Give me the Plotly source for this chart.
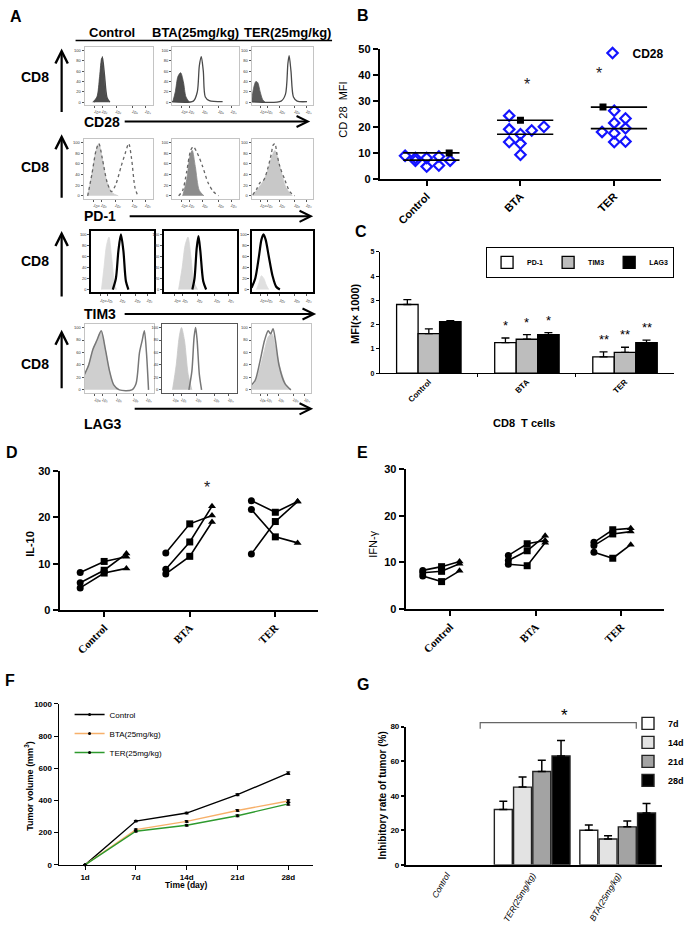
import plotly.graph_objects as go

W, H = 689, 937
def X(px): return px / W
def Y(py): return 1 - py / H

FONT = "Liberation Sans, Arial, sans-serif"
SERIF = "Liberation Serif, Times New Roman, serif"
NARROW = "Liberation Sans Narrow, Arial Narrow, Liberation Sans, sans-serif"

# ---------------- Panel A data (flow histograms, display scale 0-5) ----------------
A_GROUPS = ["Control", "BTA(25mg/kg)", "TER(25mg/kg)"]
A_KEYS = ["Control", "BTA", "TER"]
A_MARKERS = ["CD28", "PD-1", "TIM3", "LAG3"]
HIST_TICKVALS = [0.75, 1.3, 2.3, 3.5, 4.45]
HIST_TICKTEXT = ["10⁰", "10¹", "10²", "10³", "10⁴"]
HIST_YTICKS = [0, 20, 40, 60, 80, 100]

CD28_ISO = {
    "Control": ([0.6, 0.9, 1.1, 1.25, 1.4, 1.6, 1.8], [0, 10, 50, 85, 60, 10, 0]),
    "BTA": ([0.05, 0.25, 0.45, 0.65, 0.85, 1.05, 1.3], [0, 20, 50, 57, 40, 10, 0]),
    "TER": ([0.0, 0.15, 0.35, 0.5, 0.7, 0.9, 1.1], [0, 25, 40, 38, 20, 5, 0]),
}
CD28_STAIN = {
    "Control": ([0.7, 0.95, 1.15, 1.3, 1.45, 1.65, 1.85], [0, 8, 45, 88, 55, 8, 0]),
    "BTA": ([0.0, 1.6, 1.9, 2.05, 2.2, 2.35, 2.5, 2.8, 3.8], [1, 2, 20, 70, 88, 60, 10, 3, 1]),
    "TER": ([0.0, 2.4, 2.75, 2.95, 3.05, 3.2, 3.4, 3.7, 4.5], [1, 2, 15, 75, 90, 60, 10, 2, 1]),
}
PD1_ISO = {
    "Control": ([0.3, 0.6, 0.9, 1.1, 1.35, 1.7, 2.1, 2.5], [0, 40, 85, 98, 70, 25, 5, 0]),
    "BTA": ([0.8, 1.1, 1.35, 1.52, 1.75, 2.05, 2.4], [0, 30, 75, 85, 55, 10, 0]),
    "TER": ([0.1, 0.4, 0.8, 1.2, 1.6, 1.9, 2.3, 2.8, 3.3], [0, 10, 22, 40, 70, 85, 55, 15, 0]),
}
PD1_STAIN = {
    "Control": ([0.3, 0.6, 0.9, 1.1, 1.35, 1.7, 2.0, 2.3, 2.7, 3.0, 3.25, 3.45, 3.7, 3.9],
                [0, 40, 85, 98, 70, 25, 8, 20, 55, 80, 98, 70, 15, 0]),
    "BTA": ([0.5, 0.8, 1.1, 1.4, 1.6, 1.9, 2.3, 2.7, 3.1, 3.5], [0, 10, 45, 85, 92, 80, 55, 25, 8, 0]),
    "TER": ([0.1, 0.4, 0.7, 1.0, 1.3, 1.6, 1.75, 1.9, 2.05, 2.3, 2.7, 3.1, 3.5],
            [2, 12, 25, 30, 50, 78, 95, 98, 80, 55, 30, 8, 0]),
}
TIM3_ISO = {
    "Control": ([0.8, 1.0, 1.2, 1.4, 1.6, 1.85, 2.0], [0, 40, 80, 95, 60, 10, 0]),
    "BTA": ([1.0, 1.25, 1.45, 1.65, 1.85, 2.05, 2.3], [0, 40, 80, 95, 60, 15, 0]),
    "TER": ([0.4, 0.6, 0.8, 1.0, 1.2, 1.4], [0, 12, 25, 20, 8, 0]),
}
TIM3_STAIN = {
    "Control": ([1.7, 1.95, 2.15, 2.35, 2.55, 2.75, 2.95], [0, 20, 70, 100, 70, 15, 0]),
    "BTA": ([1.95, 2.1, 2.25, 2.37, 2.5, 2.7, 2.9], [0, 20, 75, 97, 70, 15, 0]),
    "TER": ([0.0, 0.3, 0.6, 0.8, 0.97, 1.15, 1.4, 1.7, 2.0, 2.3], [3, 20, 60, 90, 100, 90, 60, 25, 5, 0]),
}
LAG3_ISO = {
    "Control": ([0.0, 0.3, 0.6, 0.9, 1.2, 1.5, 1.8, 2.1, 2.5], [25, 40, 65, 80, 95, 65, 30, 8, 0]),
    "BTA": ([0.7, 0.95, 1.15, 1.3, 1.5, 1.75, 2.0], [0, 40, 85, 100, 80, 25, 0]),
    "TER": ([0.0, 0.3, 0.7, 1.1, 1.4, 1.7, 2.0, 2.4, 2.9, 3.3], [5, 12, 35, 65, 85, 90, 70, 35, 8, 0]),
}
LAG3_STAIN = {
    "Control": ([0.0, 0.3, 0.6, 0.9, 1.2, 1.5, 1.8, 2.1, 2.5, 3.4, 3.7, 3.95, 4.15, 4.3, 4.45, 4.6],
                [25, 40, 65, 80, 95, 65, 30, 8, 0, 0, 10, 60, 80, 95, 60, 0]),
    "BTA": ([1.8, 2.0, 2.15, 2.25, 2.35, 2.5, 2.65], [0, 30, 85, 100, 80, 25, 0]),
    "TER": ([0.0, 0.3, 0.7, 1.1, 1.4, 1.6, 1.8, 2.0, 2.3, 2.8, 3.3], [8, 15, 45, 80, 95, 90, 98, 80, 40, 10, 0]),
}

# ---------------- Panel B data ----------------
B_CATS = ["Control", "BTA", "TER"]
CD28_CONTROL = [8.9, 8.0, 7.0, 8.0, 4.7, 8.6, 5.1, 7.0]
CD28_BTA = [24.4, 19.1, 14.2, 17.2, 13.6, 9.3, 18.7, 20.1]
CD28_TER = [18.1, 26.3, 21.6, 17.6, 14.2, 23.3, 19.5, 14.4]
CD28_JITTER = [[-0.23, -0.12, -0.12, 0, 0, 0.13, 0.13, 0.25],
               [-0.12, -0.12, -0.12, 0, 0, 0, 0.12, 0.25],
               [-0.13, 0, 0, 0, 0, 0.12, 0.12, 0.12]]
CD28_UPPER = [10.0, 22.6, 27.7]
CD28_LOWER = [7.2, 17.2, 19.4]
CD28_SQUARE_OFFSET = [0.24, 0.0, -0.12]
B_STARS = ["", "*", "*"]
B_STAR_Y = [0, 36.6, 40.8]
B_STAR_OFFSET = [0, 0.07, -0.16]

# ---------------- Panel C data ----------------
C_CATS = ["Control", "BTA", "TER"]
C_SERIES = ["PD-1", "TIM3", "LAG3"]
PD1_MFI = [2.83, 1.26, 0.67]
PD1_ERR = [0.20, 0.19, 0.21]
TIM3_MFI = [1.63, 1.40, 0.86]
TIM3_ERR = [0.20, 0.19, 0.21]
LAG3_MFI = [2.12, 1.59, 1.26]
LAG3_ERR = [0.05, 0.08, 0.10]
PD1_STARS = ["", "*", "**"]
TIM3_STARS = ["", "*", "**"]
LAG3_STARS = ["", "*", "**"]

# ---------------- Panel D / E data (three paired lines per group) ----------------
DE_CATS = ["Control", "BTA", "TER"]
IL10_CONTROL = [[8.1, 10.5, 11.5], [5.9, 8.6, 12.2], [4.8, 8.0, 9.0]]
IL10_BTA = [[12.3, 18.6, 20.4], [8.8, 14.7, 22.4], [7.8, 11.6, 19.0]]
IL10_TER = [[23.6, 21.1, 23.4], [21.7, 15.8, 14.5], [12.1, 19.1, 23.4]]
IFNG_CONTROL = [[8.3, 9.1, 10.2], [7.8, 8.1, 9.7], [7.1, 5.9, 8.2]]
IFNG_BTA = [[11.5, 14.0, 14.7], [10.4, 12.5, 15.7], [9.6, 9.3, 14.2]]
IFNG_TER = [[14.3, 17.0, 17.3], [13.6, 16.1, 16.6], [12.2, 10.9, 13.8]]
D_STARS = ["", "*", "**"]
D_STAR_Y = [0, 26.5, 30.3]
D_STAR_OFFSET = [0, 0.2, 0.13]

# ---------------- Panel F data ----------------
DAYS = ["1d", "7d", "14d", "21d", "28d"]
VOL_CONTROL = [0, 272, 322, 436, 570]
VOL_BTA = [0, 219, 270, 338, 397]
VOL_TER = [0, 209, 246, 305, 379]
VOL_ERR = [0, 4, 5, 6, 8]

# ---------------- Panel G data ----------------
G_CATS = ["Control", "TER(25mg/kg)", "BTA(25mg/kg)"]
G_SERIES = ["7d", "14d", "21d", "28d"]
INH_7D = [0, 32, 20]
INH_7D_ERR = [0, 4.8, 3.1]
INH_14D = [0, 45, 15]
INH_14D_ERR = [0, 5.8, 1.9]
INH_21D = [0, 54, 22]
INH_21D_ERR = [0, 6.5, 3.4]
INH_28D = [0, 63, 30]
INH_28D_ERR = [0, 9, 5.5]

# =====================================================================
fig = go.Figure()
layout = {}
annotations = []
shapes = []

def ax_names(n):
    s = "" if n == 1 else str(n)
    return "xaxis" + s, "yaxis" + s, "x" + s, "y" + s

def add_axes(n, xpx, ypx, xa, ya):
    xk, yk, xr, yr = ax_names(n)
    layout[xk] = dict(xa, domain=[X(xpx[0]), X(xpx[1])], anchor=yr)
    layout[yk] = dict(ya, domain=[Y(ypx[1]), Y(ypx[0])], anchor=xr)
    return xr, yr

def txt(text, x, y, size, bold=False, angle=0, family=FONT, xanchor="center",
        yanchor="middle", italic=False):
    annotations.append(dict(
        text=text, x=X(x), y=Y(y), xref="paper", yref="paper", showarrow=False,
        xanchor=xanchor, yanchor=yanchor, textangle=angle,
        font=dict(family=family, size=size, color="black",
                  weight="bold" if bold else "normal",
                  style="italic" if italic else "normal")))

def arrow(hx, hy, ax, ay, width=2.2):
    annotations.append(dict(
        x=X(hx), y=Y(hy), xref="paper", yref="paper", text="", showarrow=True,
        ax=ax, ay=ay, arrowhead=5, arrowsize=1.1, arrowwidth=width, arrowcolor="black"))

# ---------------- Panel A ----------------
hist_boxes = [
    [(85, 154), (173, 240), (253, 315)],
    [(84, 154), (173, 240), (253, 315)],
    [(92, 155), (165, 238), (253, 315)],
    [(85, 155), (163, 238), (253, 313)],
]
hist_rows_y = [(42, 100), (135, 195), (228, 290), (322, 392)]
iso_sets = [CD28_ISO, PD1_ISO, TIM3_ISO, LAG3_ISO]
stain_sets = [CD28_STAIN, PD1_STAIN, TIM3_STAIN, LAG3_STAIN]
iso_fill = [
    ["#4d4d4d", "#4d4d4d", "#5a5a5a"],
    ["#cfcfcf", "#8c8c8c", "#c8c8c8"],
    ["#dcdcdc", "#d6d6d6", "#e0e0e0"],
    ["#cfcfcf", "#c8c8c8", "#cfcfcf"],
]
stain_style = [
    dict(color="#4a4a4a", width=1.3, dash="solid"),
    dict(color="#666666", width=1.3, dash="dot"),
    dict(color="black", width=2.2, dash="solid"),
    dict(color="#777777", width=1.5, dash="solid"),
]
frame_style = [
    [("#c4c4c4", 1)] * 3,
    [("#c4c4c4", 1)] * 3,
    [("black", 2.2)] * 3,
    [("#c4c4c4", 1), ("#555555", 1), ("#c4c4c4", 1)],
]
n = 0
for r in range(4):
    for c in range(3):
        n += 1
        lc, lw = frame_style[r][c]
        xr, yr = add_axes(
            n, hist_boxes[r][c], hist_rows_y[r],
            dict(range=[0, 5], showgrid=False, zeroline=False, showline=True, mirror=True,
                 linecolor=lc, linewidth=lw, ticks="outside", ticklen=2, tickcolor="#555",
                 tickvals=HIST_TICKVALS, ticktext=HIST_TICKTEXT,
                 tickfont=dict(size=4, family=FONT, color="#333")),
            dict(range=[-5, 106], showgrid=False, zeroline=False, showline=True, mirror=True,
                 linecolor=lc, linewidth=lw, ticks="outside", ticklen=2, tickcolor="#555",
                 tickvals=HIST_YTICKS, tickfont=dict(size=4, family=FONT, color="#333")))
        key = A_KEYS[c]
        ix, iy = iso_sets[r][key]
        fig.add_trace(go.Scatter(
            x=ix, y=iy, mode="lines", fill="tozeroy", fillcolor=iso_fill[r][c],
            line=dict(color=iso_fill[r][c], width=0.8, shape="spline", smoothing=0.8),
            xaxis=xr, yaxis=yr, showlegend=False, hoverinfo="skip"))
        sx, sy = stain_sets[r][key]
        st = stain_style[r]
        fig.add_trace(go.Scatter(
            x=sx, y=sy, mode="lines",
            line=dict(color=st["color"], width=st["width"], dash=st["dash"],
                      shape="spline", smoothing=0.8),
            xaxis=xr, yaxis=yr, showlegend=False, hoverinfo="skip"))

# Panel A text and arrows
txt("A", 8, 11, 16, bold=True, xanchor="left")
txt("Control", 113, 27, 13, bold=True)
txt("BTA(25mg/kg)", 197, 27, 13, bold=True)
txt("TER(25mg/kg)", 289, 27, 13, bold=True)
shapes.append(dict(type="line", xref="paper", yref="paper", x0=X(76), x1=X(334),
                   y0=Y(35), y1=Y(35), line=dict(color="black", width=1.5)))
cd8_y = [72, 163, 258, 363]
up_arrows = [(43, 108), (130, 195), (228, 295), (328, 388)]
for i in range(4):
    txt("CD8", 35, cd8_y[i], 14, bold=True)
    top, bot = up_arrows[i]
    arrow(62, top, 0, bot - top)
mk_label_y = [118, 213, 312, 423]
h_arrows = [(125, 312, 117), (130, 315, 213), (125, 318, 312), (135, 315, 408)]
for i in range(4):
    txt(A_MARKERS[i], 82, mk_label_y[i], 14, bold=True, xanchor="left")
    x0, x1, yy = h_arrows[i]
    arrow(x1, yy, -(x1 - x0), 0, width=2)

# ---------------- Panel B ----------------
axis_common = dict(showgrid=False, zeroline=False, showline=True, linecolor="black",
                   ticks="outside", tickcolor="black")
xr, yr = add_axes(
    13, (382, 665), (44, 175),
    dict(axis_common, range=[-0.5, 2.5], tickvals=[0, 1, 2], ticktext=B_CATS, tickangle=-45,
         linewidth=2, tickwidth=2, ticklen=5,
         tickfont=dict(family=FONT, size=11, weight="bold", color="black")),
    dict(axis_common, range=[0, 50], dtick=10, linewidth=2, tickwidth=2, ticklen=5,
         tickfont=dict(family=FONT, size=11, weight="bold", color="black")))
cd28_groups = [CD28_CONTROL, CD28_BTA, CD28_TER]
for i, vals in enumerate(cd28_groups):
    fig.add_trace(go.Scatter(
        x=[i + o for o in CD28_JITTER[i]], y=vals, mode="markers", name="CD28",
        marker=dict(symbol="diamond-open", size=8, color="#1414ff", line=dict(width=2.2)),
        xaxis=xr, yaxis=yr, showlegend=(i == 0), legend="legend", cliponaxis=False))
    for v in (CD28_UPPER[i], CD28_LOWER[i]):
        fig.add_trace(go.Scatter(
            x=[i - 0.25, i + 0.35], y=[v, v], mode="lines",
            line=dict(color="black", width=1.6), xaxis=xr, yaxis=yr, showlegend=False))
    fig.add_trace(go.Scatter(
        x=[i + CD28_SQUARE_OFFSET[i]], y=[CD28_UPPER[i]], mode="markers",
        marker=dict(symbol="square", size=7, color="black"),
        xaxis=xr, yaxis=yr, showlegend=False))
for i in range(3):
    if B_STARS[i]:
        annotations.append(dict(x=i + B_STAR_OFFSET[i], y=B_STAR_Y[i], xref=xr, yref=yr,
                                text=B_STARS[i], showarrow=False,
                                font=dict(family=FONT, size=16, color="#222")))
txt("B", 365, 10, 16, bold=True)
txt("CD 28  MFI", 345, 105, 11, angle=-90)

# ---------------- Panel C ----------------
xr, yr = add_axes(
    14, (382, 678), (249, 372),
    dict(axis_common, range=[-0.5, 2.5], tickvals=[0, 1, 2], ticktext=C_CATS, tickangle=-45,
         ticks="", linewidth=1, ticklen=0,
         minor=dict(tickvals=[0.5, 1.5], ticks="outside", ticklen=3, tickcolor="black"),
         tickfont=dict(family=FONT, size=8, weight="bold", color="black")),
    dict(axis_common, range=[0, 5], dtick=1, linewidth=1, ticklen=3, tickwidth=1,
         tickfont=dict(family=FONT, size=7, weight="bold", color="black")))
c_vals = [PD1_MFI, TIM3_MFI, LAG3_MFI]
c_errs = [PD1_ERR, TIM3_ERR, LAG3_ERR]
c_stars = [PD1_STARS, TIM3_STARS, LAG3_STARS]
c_colors = ["white", "#bdbdbd", "black"]
bw = 0.219
for k in range(3):
    off = -1.5 * bw + k * bw
    fig.add_trace(go.Bar(
        x=[0, 1, 2], y=c_vals[k], width=bw, offset=off, name=C_SERIES[k],
        marker=dict(color=c_colors[k], line=dict(color="black", width=1.3)),
        error_y=dict(type="data", array=c_errs[k], arrayminus=[0, 0, 0], symmetric=False,
                     color="black", thickness=1.3, width=4),
        xaxis=xr, yaxis=yr, legend="legend2"))
    for i in range(3):
        if c_stars[k][i]:
            annotations.append(dict(
                x=i + off + bw / 2, y=c_vals[k][i] + c_errs[k][i] + 0.12, xref=xr, yref=yr,
                text=c_stars[k][i], showarrow=False, yanchor="bottom",
                font=dict(family=FONT, size=13, color="black")))
txt("C", 363, 228, 16, bold=True)
txt("MFI(× 1000)", 357, 311, 11, bold=True, angle=-90)
txt("CD8  T cells", 527, 422, 11, bold=True)

# ---------------- Panels D and E ----------------
def paired_panel(n, xpx, ypx, groups, offsets, ylabel_text, label, label_xy, ylabel_xy, bold):
    xr, yr = add_axes(
        n, xpx, ypx,
        dict(axis_common, range=[-0.52, 2.5], tickvals=[0, 1, 2], ticktext=DE_CATS,
             tickangle=-45, linewidth=2, tickwidth=2, ticklen=5,
             tickfont=dict(family=SERIF, size=11, weight="bold", color="black")),
        dict(axis_common, range=[0, 30], dtick=10, linewidth=2, tickwidth=2, ticklen=5,
             tickfont=dict(family=FONT, size=11, weight="bold", color="black")))
    for i, grp in enumerate(groups):
        for series in grp:
            fig.add_trace(go.Scatter(
                x=[i + o for o in offsets], y=series, mode="lines+markers",
                line=dict(color="black", width=1.6),
                marker=dict(symbol=["circle", "square", "triangle-up"], size=7, color="black"),
                xaxis=xr, yaxis=yr, showlegend=False, cliponaxis=False))
    txt(label, label_xy[0], label_xy[1], 16, bold=True)
    txt(ylabel_text, ylabel_xy[0], ylabel_xy[1], 11, bold=bold, angle=-90)
    return xr, yr

xr, yr = paired_panel(15, (60, 320), (471, 612), [IL10_CONTROL, IL10_BTA, IL10_TER],
                      [-0.28, 0.0, 0.26], "IL-10", "D", (12, 452), (30, 545), True)
for i in range(3):
    if D_STARS[i]:
        annotations.append(dict(x=i + D_STAR_OFFSET[i], y=D_STAR_Y[i], xref=xr, yref=yr,
                                text=D_STARS[i], showarrow=False,
                                font=dict(family=FONT, size=16, color="#222")))
paired_panel(16, (408, 668), (469, 611), [IFNG_CONTROL, IFNG_BTA, IFNG_TER],
             [-0.32, -0.1, 0.11], "IFN-γ", "E", (365, 452), (375, 545), False)

# ---------------- Panel F ----------------
xr, yr = add_axes(
    17, (59, 315), (707, 870),
    dict(axis_common, range=[-0.52, 4.49], tickvals=[0, 1, 2, 3, 4], ticktext=DAYS,
         linewidth=1.2, ticklen=4, tickwidth=1.2,
         tickfont=dict(family=FONT, size=8, weight="bold", color="black")),
    dict(axis_common, range=[0, 1000], dtick=200, linewidth=1.2, ticklen=4, tickwidth=1.2,
         tickfont=dict(family=FONT, size=8, weight="bold", color="black")))
f_series = [("Control", VOL_CONTROL, "black"),
            ("BTA(25mg/kg)", VOL_BTA, "#f7b06a"),
            ("TER(25mg/kg)", VOL_TER, "#2e9a2e")]
for name, vals, col in f_series:
    fig.add_trace(go.Scatter(
        x=[0, 1, 2, 3, 4], y=vals, mode="lines+markers", name=name,
        line=dict(color=col, width=1.4),
        marker=dict(symbol="circle", size=3, color="black"),
        error_y=dict(type="data", array=VOL_ERR, color="black", thickness=1, width=2),
        xaxis=xr, yaxis=yr, legend="legend3", cliponaxis=False))
txt("F", 10, 683, 16, bold=True)
txt("Tumor volume (mm<sup>3</sup>)", 29, 790, 9, bold=True, angle=-90)
txt("Time (day)", 188, 890, 8.5, bold=True)

# ---------------- Panel G ----------------
xr, yr = add_axes(
    18, (408, 666), (730, 870),
    dict(axis_common, range=[-0.48, 2.52], tickvals=[0, 1, 2], ticktext=G_CATS,
         tickangle=-60, ticks="", linewidth=2,
         tickfont=dict(family=FONT, size=8.5, style="italic", color="black")),
    dict(axis_common, range=[0, 80], dtick=20, linewidth=1.5, ticklen=3, tickwidth=1.5,
         tickfont=dict(family=NARROW, size=8, weight="bold", color="black")))
g_vals = [INH_7D, INH_14D, INH_21D, INH_28D]
g_errs = [INH_7D_ERR, INH_14D_ERR, INH_21D_ERR, INH_28D_ERR]
g_colors = ["white", "#e3e3e3", "#a3a3a3", "black"]
gstep, gw = 0.225, 0.21
for k in range(4):
    keep = [i for i, v in enumerate(g_vals[k]) if v > 0]   # zero-height bars draw nothing
    fig.add_trace(go.Bar(
        x=keep, y=[g_vals[k][i] for i in keep], width=gw,
        offset=-2 * gstep + k * gstep + (gstep - gw) / 2, name=G_SERIES[k],
        marker=dict(color=g_colors[k], line=dict(color="#222", width=1.4)),
        error_y=dict(type="data", array=[g_errs[k][i] for i in keep],
                     arrayminus=[0] * len(keep), symmetric=False,
                     color="black", thickness=1.5, width=4),
        xaxis=xr, yaxis=yr, legend="legend4"))
txt("G", 365, 687, 16, bold=True)
txt("Inhibitory rate of tumor (%)", 385, 800, 10, bold=True, angle=-90)
shapes.append(dict(type="path", xref="paper", yref="paper",
                   path=f"M {X(483)} {Y(732)} L {X(483)} {Y(726)} L {X(640)} {Y(726)} L {X(640)} {Y(732)}",
                   line=dict(color="#666", width=1.2)))
txt("*", 568, 719, 17)

# ---------------- Layout ----------------
fig.update_layout(
    width=W, height=H, margin=dict(l=0, r=0, t=0, b=0),
    paper_bgcolor="white", plot_bgcolor="rgba(0,0,0,0)",
    barmode="overlay", font=dict(family=FONT, color="black"),
    annotations=annotations, shapes=shapes,
    legend=dict(x=X(596), y=Y(33), xanchor="left", yanchor="top", bgcolor="rgba(0,0,0,0)",
                font=dict(family=FONT, size=12, weight="bold")),
    legend2=dict(x=X(678), y=Y(244), xanchor="right", yanchor="top", orientation="h",
                 bgcolor="white", bordercolor="black", borderwidth=1,
                 font=dict(family=FONT, size=7, weight="bold"), itemwidth=30),
    legend3=dict(x=X(70), y=Y(703), xanchor="left", yanchor="top", bgcolor="rgba(0,0,0,0)",
                 font=dict(family=FONT, size=8), itemwidth=30, tracegroupgap=0),
    legend4=dict(x=X(632), y=Y(712), xanchor="left", yanchor="top", bgcolor="rgba(0,0,0,0)",
                 font=dict(family=NARROW, size=9, weight="bold"), itemwidth=30, tracegroupgap=0),
    **layout,
)
fig.write_html("out.html", config={"displayModeBar": False},
               post_script="document.body.style.margin='0';")
